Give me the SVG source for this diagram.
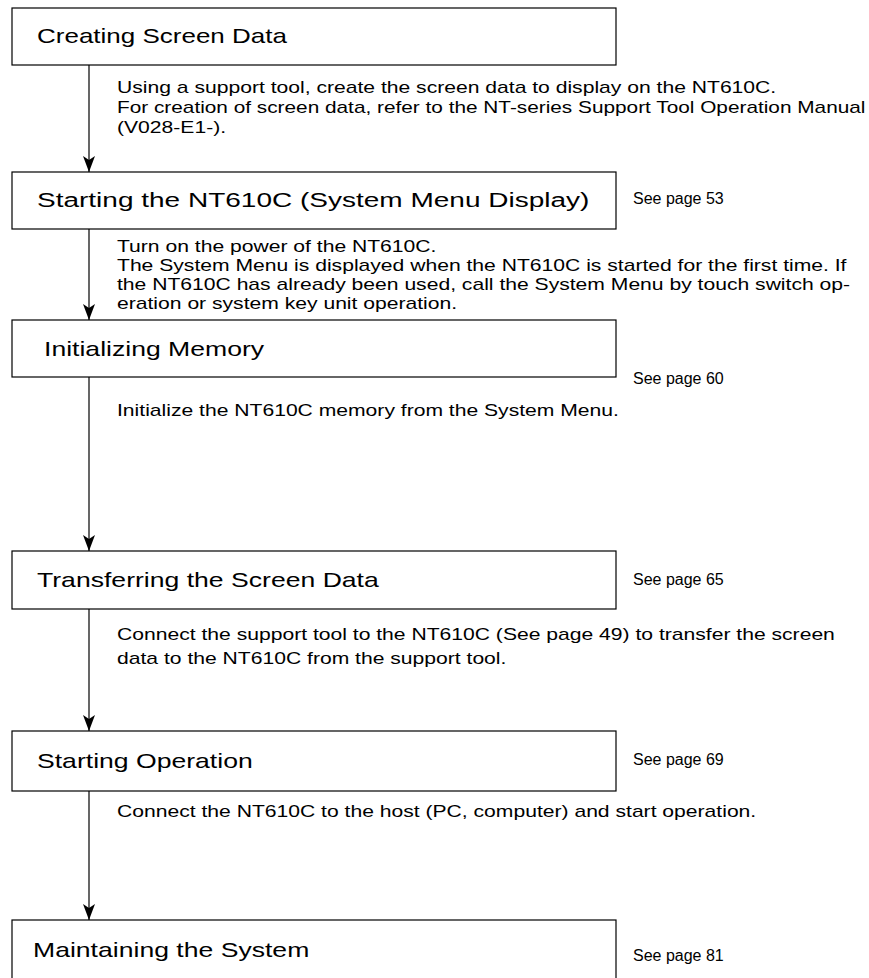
<svg xmlns="http://www.w3.org/2000/svg" width="869" height="978" viewBox="0 0 869 978">
<style>
.box{fill:#fff;stroke:#000;stroke-width:1.2}
.t{font-family:"Liberation Sans",Arial,sans-serif;font-size:20px;fill:#000}
.b{font-family:"Liberation Sans",Arial,sans-serif;font-size:16px;fill:#000}
.c{stroke:#000;stroke-width:1.2;fill:none;marker-end:url(#ah)}
</style>
<defs><marker id="ah" markerWidth="16" markerHeight="12" refX="16" refY="6" orient="auto" markerUnits="userSpaceOnUse"><path d="M0,0 L16,6 L0,12 L4,6 Z" fill="#000"/></marker></defs>
<rect width="869" height="978" fill="#fff"/>
<g id="connectors">
<line class="c" x1="89" y1="65" x2="89" y2="172"/>
<line class="c" x1="89" y1="229" x2="89" y2="320"/>
<line class="c" x1="89" y1="377" x2="89" y2="551"/>
<line class="c" x1="89" y1="609" x2="89" y2="731"/>
<line class="c" x1="89" y1="791" x2="89" y2="920"/>
</g>
<g id="n1"><rect class="box" x="12" y="8" width="604" height="57"/><text class="t" transform="translate(37 43) scale(1.3 1)">Creating Screen Data</text>
<text class="b" transform="translate(117 93) scale(1.32 1)">Using a support tool, create the screen data to display on the NT610C.</text>
<text class="b" transform="translate(117 113) scale(1.3 1)">For creation of screen data, refer to the NT-series Support Tool Operation Manual</text>
<text class="b" transform="translate(117 133) scale(1.32 1)">(V028-E1-).</text></g>
<g id="n2"><rect class="box" x="12" y="172" width="604" height="57"/><text class="t" transform="translate(37 207) scale(1.4 1)">Starting the NT610C (System Menu Display)</text><text class="b" x="633" y="204">See page 53</text>
<text class="b" transform="translate(117 252) scale(1.32 1)">Turn on the power of the NT610C.</text>
<text class="b" transform="translate(117 271) scale(1.32 1)">The System Menu is displayed when the NT610C is started for the first time.  If</text>
<text class="b" transform="translate(117 290) scale(1.32 1)">the NT610C has already been used, call the System Menu by touch switch op-</text>
<text class="b" transform="translate(117 309) scale(1.32 1)">eration or system key unit operation.</text></g>
<g id="n3"><rect class="box" x="12" y="320" width="604" height="57"/><text class="t" transform="translate(44 356) scale(1.33 1)">Initializing Memory</text><text class="b" x="633" y="384">See page 60</text>
<text class="b" transform="translate(117 416) scale(1.32 1)">Initialize the NT610C memory from the System Menu.</text></g>
<g id="n4"><rect class="box" x="12" y="551" width="604" height="58"/><text class="t" transform="translate(37 587) scale(1.33 1)">Transferring the Screen Data</text><text class="b" x="633" y="585">See page 65</text>
<text class="b" transform="translate(117 640) scale(1.32 1)">Connect the support tool to the NT610C (See page 49) to transfer the screen</text>
<text class="b" transform="translate(117 664) scale(1.32 1)">data to the NT610C from the support tool.</text></g>
<g id="n5"><rect class="box" x="12" y="731" width="604" height="60"/><text class="t" transform="translate(37 768) scale(1.33 1)">Starting Operation</text><text class="b" x="633" y="765">See page 69</text>
<text class="b" transform="translate(117 817) scale(1.32 1)">Connect the NT610C to the host (PC, computer) and start operation.</text></g>
<g id="n6"><rect class="box" x="12" y="920" width="604" height="70"/><text class="t" transform="translate(33 957) scale(1.33 1)">Maintaining the System</text><text class="b" x="633" y="961">See page 81</text></g>
</svg>
